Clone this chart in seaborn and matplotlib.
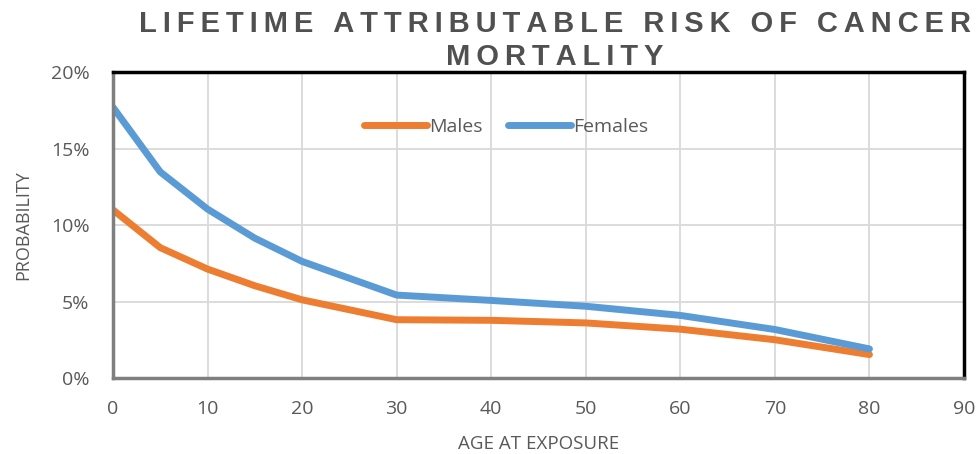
import matplotlib
matplotlib.use("Agg")
import matplotlib.pyplot as plt
import seaborn as sns
import pandas as pd
from matplotlib.ticker import PercentFormatter

# lifetime attributable risk of cancer mortality (%), by age at exposure
ages = [0, 5, 10, 15, 20, 30, 40, 50, 60, 70, 80]
males = [10.99, 8.52, 7.12, 6.03, 5.11, 3.81, 3.77, 3.60, 3.19, 2.50, 1.53]
females = [17.70, 13.47, 11.04, 9.14, 7.62, 5.42, 5.07, 4.69, 4.09, 3.17, 1.90]
series_names = ["Males", "Females"]
series_colors = ["#ED7D31", "#5B9BD5"]

df = pd.DataFrame({"age": ages * 2,
                   "risk": males + females,
                   "sex": [series_names[0]] * len(ages) + [series_names[1]] * len(ages)})

sns.set_style("white")
plt.rcParams["font.family"] = ["Open Sans", "DejaVu Sans"]
grey = "#595959"

fig = plt.figure(figsize=(9.78, 4.54), dpi=100)
ax = fig.add_axes([0.1155, 0.1674, 0.8702, 0.674])

sns.lineplot(data=df, x="age", y="risk", hue="sex", palette=series_colors,
             linewidth=5, ax=ax, legend=True)
for line in ax.lines:
    line.set_solid_capstyle("round")
    line.set_solid_joinstyle("round")

ax.set_xlim(0, 90)
ax.set_ylim(0, 20)
ax.set_xticks(range(0, 91, 10))
ax.set_yticks(range(0, 21, 5))
ax.yaxis.set_major_formatter(PercentFormatter(decimals=0))
ax.grid(True, color="#D9D9D9", linewidth=1.3)
ax.set_axisbelow(True)
ax.tick_params(axis="both", labelsize=14, labelcolor=grey, length=0)
ax.tick_params(axis="x", pad=16)
ax.tick_params(axis="y", pad=17)

for side in ["top", "right"]:
    ax.spines[side].set_color("black")
    ax.spines[side].set_linewidth(2.5)
for side in ["left", "bottom"]:
    ax.spines[side].set_color("#7F7F7F")
    ax.spines[side].set_linewidth(2.5)

ax.set_xlabel("AGE AT EXPOSURE", fontsize=13.5, color=grey, labelpad=12)
ax.set_ylabel("PROBABILITY", fontsize=13, color=grey, labelpad=13)

leg = ax.legend(loc="center", bbox_to_anchor=(0.462, 0.82), ncol=2, frameon=False,
                fontsize=14, handlelength=3.25, handletextpad=0.1, columnspacing=1.3,
                labelcolor=grey)
for h in leg.get_lines():
    h.set_linewidth(5)
    h.set_solid_capstyle("round")

title = "\u2009".join("LIFETIME ATTRIBUTABLE RISK OF CANCER") + "\n" + "\u2009".join("MORTALITY")
fig.text(0.5675, 0.978, title, ha="center", va="top", fontsize=21, fontweight="bold",
         color="#505050", family=["Liberation Sans", "DejaVu Sans"], linespacing=1.22)

fig.savefig("out.png", dpi=100)
